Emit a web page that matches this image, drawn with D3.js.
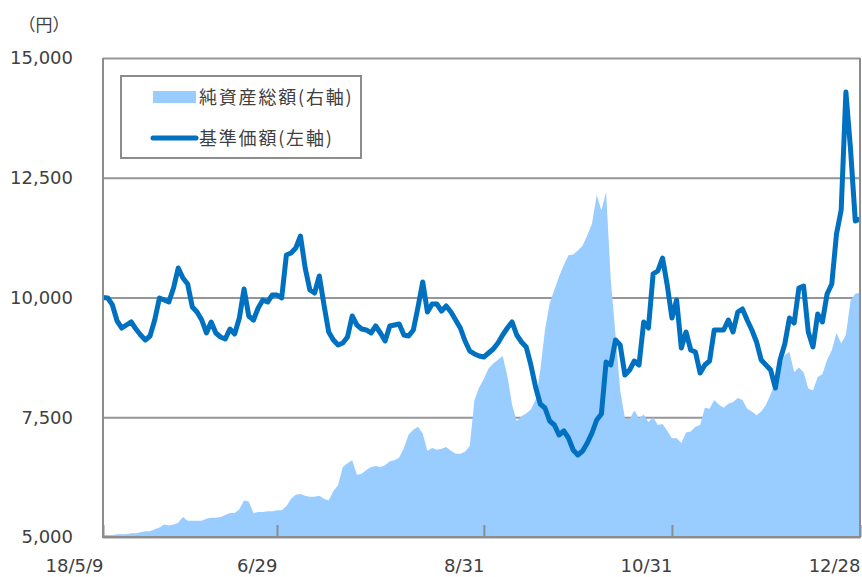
<!DOCTYPE html>
<meta charset="utf-8">
<style>

body {
  margin: 0;
  background: #fff;
}

svg {
  display: block;
}

.legend text {
  font-family: "Noto Sans CJK JP", sans-serif;
  font-size: 18px;
  letter-spacing: 1.8px;
  fill: #404040;
}

</style>
<svg class="chart" width="862" height="577"></svg>
<script src="https://cdnjs.cloudflare.com/ajax/libs/d3/7.8.5/d3.min.js"></script>
<script>

// x axis: trading-day index, with a label on a few of them
var tickIndex = [0, 37, 81, 121, 161];
var tickLabels = ["18/5/9", "6/29", "8/31", "10/31", "12/28"];

// left axis (yen)
var yTicks = [5000, 7500, 10000, 12500, 15000];

// 基準価額 (yen), one per trading day
var navValues = [
  10000, 9990, 9844, 9509, 9363, 9426, 9489, 9342, 9217, 9113,
  9196, 9530, 9990, 9948, 9906, 10198, 10616, 10407, 10282, 9802,
  9697, 9530, 9259, 9489, 9259, 9175, 9134, 9342, 9238, 9572,
  10177, 9614, 9530, 9781, 9948, 9906, 10052, 10052, 9990, 10887,
  10929, 11033, 11284, 10616, 10157, 10094, 10449, 9844, 9280, 9113,
  9008, 9050, 9175, 9614, 9426, 9342, 9322, 9259, 9405, 9259,
  9092, 9405, 9426, 9447, 9217, 9196, 9322, 9802, 10324, 9697,
  9864, 9864, 9718, 9823, 9697, 9530, 9363, 9092, 8883, 8821,
  8779, 8758, 8841, 8925, 9050, 9217, 9363, 9489, 9217, 9071,
  8967, 8591, 8132, 7777, 7693, 7422, 7338, 7129, 7213, 7067,
  6816, 6712, 6795, 6962, 7171, 7443, 7568, 8653, 8591, 9113,
  9008, 8382, 8486, 8674, 8591, 9489, 9363, 10491, 10553, 10825,
  10261, 9572, 9948, 8946, 9280, 8904, 8862, 8424, 8591, 8674,
  9322, 9322, 9322, 9530, 9280, 9697, 9760, 9530, 9322, 9071,
  8695, 8591, 8486, 8111, 8695, 9029, 9572, 9468, 10198, 10240,
  9280, 8967, 9656, 9489, 10073, 10282, 11326, 11827, 14290, 13079,
  11597, 11639
];

// 純資産総額 (right axis, not labelled), one per trading day
var assetValues = [
  2, 2, 2, 3, 3, 3, 4, 4, 5, 6,
  6, 8, 10, 13, 12, 13, 15, 21, 17, 17,
  17, 17, 19, 20, 20, 21, 23, 25, 25, 29,
  38, 37, 25, 26, 26, 27, 27, 28, 28, 32,
  40, 44, 45, 43, 42, 42, 43, 40, 38, 48,
  54, 73, 77, 80, 65, 66, 70, 73, 74, 73,
  75, 79, 80, 83, 93, 107, 112, 115, 108, 90,
  93, 91, 92, 94, 90, 87, 87, 89, 95, 143,
  156, 165, 176, 181, 185, 189, 168, 138, 121, 126,
  129, 133, 143, 174, 216, 244, 258, 272, 284, 294,
  295, 299, 304, 315, 327, 357, 341, 360, 268, 211,
  153, 124, 123, 132, 124, 128, 120, 125, 117, 118,
  111, 103, 103, 98, 109, 110, 115, 117, 135, 134,
  143, 138, 135, 139, 141, 145, 143, 134, 131, 127,
  131, 138, 149, 162, 177, 190, 193, 172, 177, 172,
  155, 153, 167, 170, 185, 195, 213, 202, 211, 247,
  254, 255
];

// plot area edges
var plotL = 103, plotR = 860, plotT = 58, plotB = 537;
var labelFont = "'DejaVu Sans', Verdana, sans-serif";

var svg = d3.select(".chart");

var x = d3.scaleLinear()
    .domain([0, navValues.length - 1])
    .range([plotL, plotR]);

var y = d3.scaleLinear()
    .domain([5000, 15000])
    .range([plotB, plotT]);

var y2 = d3.scaleLinear()
    .domain([0, 500])
    .range([plotB, plotT]);

// gridlines go behind everything
svg.append("g")
    .attr("transform", "translate(" + plotL + ",0)")
    .call(d3.axisLeft(y).tickValues(yTicks).tickSize(-(plotR - plotL)).tickFormat(""))
    .call(function(g) {
      g.select(".domain").remove();
      g.selectAll("line").attr("stroke", "#969696").attr("stroke-width", 2);
    });

// 純資産総額 area
var area = d3.area()
    .x(function(d, i) { return x(i); })
    .y0(plotB)
    .y1(function(d) { return y2(d); });

svg.append("path")
    .datum(assetValues)
    .attr("fill", "#99ccff")
    .attr("d", area);

// 基準価額 line
var line = d3.line()
    .x(function(d, i) { return x(i); })
    .y(function(d) { return y(d); });

svg.append("path")
    .datum(navValues)
    .attr("fill", "none")
    .attr("stroke", "#0070c0")
    .attr("stroke-width", 5)
    .attr("stroke-linejoin", "round")
    .attr("d", line);

// frame: left, bottom and right sides
svg.append("path")
    .attr("d", "M" + plotL + "," + plotT + "V" + plotB + "H" + plotR + "V" + plotT)
    .attr("fill", "none")
    .attr("stroke", "#8c8c8c")
    .attr("stroke-width", 2);

// left axis labels
svg.append("g")
    .attr("transform", "translate(" + plotL + ",0)")
    .call(d3.axisLeft(y).tickValues(yTicks).tickSize(0).tickPadding(30).tickFormat(d3.format(",")))
    .call(function(g) {
      g.select(".domain").remove();
      g.selectAll("text")
        .attr("fill", "#404040")
        .style("font-size", "18px")
        .style("font-family", labelFont);
    });

// bottom axis: short ticks pointing up, labels right-aligned to the tick
svg.append("g")
    .attr("transform", "translate(0," + plotB + ")")
    .call(d3.axisBottom(x).tickValues(tickIndex).tickSize(-12)
      .tickFormat(function(d, i) { return tickLabels[i]; }))
    .call(function(g) {
      g.select(".domain").remove();
      g.selectAll("line").attr("stroke", "#8c8c8c").attr("stroke-width", 2);
      g.selectAll("text")
        .attr("text-anchor", "end")
        .attr("y", 35)
        .attr("dy", 0)
        .attr("fill", "#404040")
        .style("font-size", "18px")
        .style("font-family", labelFont);
    });

// unit label
svg.append("text")
    .attr("x", 44)
    .attr("y", 31)
    .attr("text-anchor", "middle")
    .attr("fill", "#404040")
    .style("font-family", "'Noto Sans CJK JP', sans-serif")
    .style("font-size", "17px")
    .text("（円）");

// legend
var legend = svg.append("g").attr("class", "legend");

legend.append("rect")
    .attr("x", 121)
    .attr("y", 76)
    .attr("width", 240)
    .attr("height", 82)
    .attr("fill", "#fff")
    .attr("stroke", "#8c8c8c")
    .attr("stroke-width", 2);

legend.append("rect")
    .attr("x", 153)
    .attr("y", 91)
    .attr("width", 43)
    .attr("height", 12)
    .attr("fill", "#99ccff");

legend.append("text")
    .attr("x", 199)
    .attr("y", 104)
    .text("純資産総額(右軸)");

legend.append("line")
    .attr("x1", 153)
    .attr("x2", 196)
    .attr("y1", 138)
    .attr("y2", 138)
    .attr("stroke", "#0070c0")
    .attr("stroke-width", 5)
    .attr("stroke-linecap", "round");

legend.append("text")
    .attr("x", 199)
    .attr("y", 145)
    .text("基準価額(左軸)");

</script>
